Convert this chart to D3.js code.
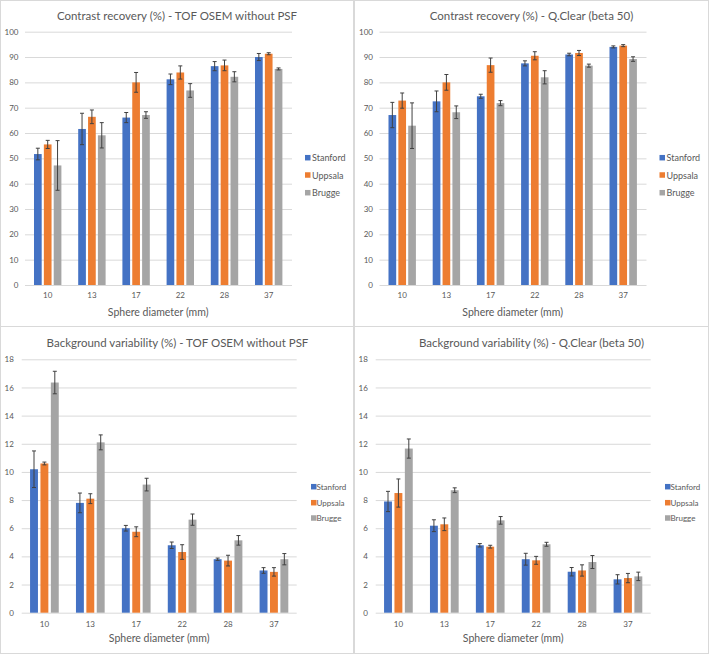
<!DOCTYPE html>
<html>
<head>
<meta charset="utf-8">
<script src="https://cdn.jsdelivr.net/npm/d3@7"></script>
<style>
  html, body { margin: 0; padding: 0; background: #fff; }
  svg { display: block; font-family: Lato, "Liberation Sans", sans-serif; }
</style>
</head>
<body>
<svg id="chart" width="709" height="654"></svg>
<script>
// ---------- DATA ----------
const categories = ["10", "13", "17", "22", "28", "37"];
const seriesNames = ["Stanford", "Uppsala", "Brugge"];
const seriesColors = ["#4472C4", "#ED7D31", "#A5A5A5"];

const crTicks = [0, 10, 20, 30, 40, 50, 60, 70, 80, 90, 100];
const bvTicks = [0, 2, 4, 6, 8, 10, 12, 14, 16, 18];

// Contrast recovery - TOF OSEM without PSF
const crOsemStanford    = [51.7, 61.6, 66.1, 81.2, 86.4, 90.0];
const crOsemStanfordErr = [2.3, 6.2, 2.0, 2.1, 1.8, 1.4];
const crOsemUppsala     = [55.5, 66.4, 80.0, 83.9, 86.7, 91.3];
const crOsemUppsalaErr  = [1.6, 2.7, 3.9, 2.6, 2.1, 0.4];
const crOsemBrugge      = [47.2, 59.1, 67.1, 76.8, 82.2, 85.3];
const crOsemBruggeErr   = [9.8, 5.0, 1.3, 2.7, 2.0, 0.4];

// Contrast recovery - Q.Clear (beta 50)
const crQcStanford    = [67.1, 72.5, 74.5, 87.5, 91.0, 94.0];
const crQcStanfordErr = [5.0, 4.1, 0.8, 1.0, 0.5, 0.4];
const crQcUppsala     = [72.8, 80.0, 86.8, 90.5, 91.6, 94.5];
const crQcUppsalaErr  = [3.0, 3.1, 2.8, 1.6, 1.0, 0.4];
const crQcBrugge      = [62.9, 68.2, 71.8, 82.0, 86.6, 89.2];
const crQcBruggeErr   = [9.0, 2.5, 1.0, 2.6, 0.6, 0.9];

// Background variability - TOF OSEM without PSF
const bvOsemStanford    = [10.19, 7.8, 6.0, 4.79, 3.8, 3.0];
const bvOsemStanfordErr = [1.3, 0.7, 0.2, 0.23, 0.08, 0.2];
const bvOsemUppsala     = [10.6, 8.1, 5.75, 4.31, 3.7, 2.9];
const bvOsemUppsalaErr  = [0.1, 0.35, 0.35, 0.52, 0.38, 0.3];
const bvOsemBrugge      = [16.35, 12.1, 9.1, 6.61, 5.14, 3.8];
const bvOsemBruggeErr   = [0.8, 0.53, 0.45, 0.4, 0.34, 0.4];

// Background variability - Q.Clear (beta 50)
const bvQcStanford    = [7.9, 6.18, 4.79, 3.8, 2.91, 2.37];
const bvQcStanfordErr = [0.72, 0.42, 0.12, 0.42, 0.3, 0.33];
const bvQcUppsala     = [8.5, 6.28, 4.69, 3.72, 3.0, 2.46];
const bvQcUppsalaErr  = [1.0, 0.45, 0.1, 0.28, 0.4, 0.33];
const bvQcBrugge      = [11.66, 8.7, 6.56, 4.86, 3.6, 2.58];
const bvQcBruggeErr   = [0.68, 0.17, 0.27, 0.14, 0.46, 0.3];

// ---------- PANELS ----------
const svg = d3.select("#chart");
const textColor = "#595959";
const gridColor = "#d9d9d9";

// panel borders
[[0.5, 0.5, 353, 326], [354.5, 0.5, 354, 326], [0.5, 326.5, 353, 327], [354.5, 326.5, 354, 327]]
  .forEach(r => svg.append("rect").attr("x", r[0]).attr("y", r[1]).attr("width", r[2]).attr("height", r[3])
    .attr("fill", "none").attr("stroke", gridColor).attr("stroke-width", 1));

const panels = [
  { title: "Contrast recovery (%) - TOF OSEM without PSF", dx: 0, top: true,
    vals: [crOsemStanford, crOsemUppsala, crOsemBrugge], errs: [crOsemStanfordErr, crOsemUppsalaErr, crOsemBruggeErr] },
  { title: "Contrast recovery (%) - Q.Clear (beta 50)", dx: 354.5, top: true,
    vals: [crQcStanford, crQcUppsala, crQcBrugge], errs: [crQcStanfordErr, crQcUppsalaErr, crQcBruggeErr] },
  { title: "Background variability (%) - TOF OSEM without PSF", dx: 0, top: false,
    vals: [bvOsemStanford, bvOsemUppsala, bvOsemBrugge], errs: [bvOsemStanfordErr, bvOsemUppsalaErr, bvOsemBruggeErr] },
  { title: "Background variability (%) - Q.Clear (beta 50)", dx: 354, top: false,
    vals: [bvQcStanford, bvQcUppsala, bvQcBrugge], errs: [bvQcStanfordErr, bvQcUppsalaErr, bvQcBruggeErr] }
];

panels.forEach(p => {
  const L = p.top
    ? { x0: 25.6, x1: 290.8, y0: 285, y1: 31.7, ymax: 100, ticks: crTicks, titleY: 15, titleX: 177,
        tickLabelY: 295, xTitleY: 311.7, legSq: 305, legTx: 312, legY: [157.7, 175, 192.7], legFont: 9,
        yLabelX: 18.5, outerPad: 0.38, innerPad: 0.22, gridX0: 25, gridX1: 292 }
    : { x0: 21.45, x1: 296.9, y0: 612.7, y1: 359.3, ymax: 18, ticks: bvTicks, titleY: 342.7, titleX: 177.5,
        tickLabelY: 624, xTitleY: 638.3, legSq: 311, legTx: 316.5, legY: [486.7, 502.7, 518], legFont: 8,
        yLabelX: 13.8, outerPad: 0.375, innerPad: 0.24, gridX0: 21.7, gridX1: 296.7 };
  const g = svg.append("g").attr("transform", `translate(${p.dx},0)`);

  const x = d3.scaleBand().domain(categories).range([L.x0, L.x1])
    .paddingInner(L.outerPad).paddingOuter(L.outerPad / 2);
  const xs = d3.scaleBand().domain(seriesNames).range([0, x.bandwidth()]).paddingInner(L.innerPad);
  const y = d3.scaleLinear().domain([0, L.ymax]).range([L.y0, L.y1]);

  // title
  g.append("text").attr("x", L.titleX).attr("y", L.titleY).attr("text-anchor", "middle")
    .attr("dominant-baseline", "central").attr("font-size", 11.5).attr("fill", textColor).text(p.title);

  // grid + y labels
  const gy = g.append("g").attr("transform", `translate(${L.gridX0},0)`)
    .call(d3.axisLeft(y).tickValues(L.ticks).tickSize(-(L.gridX1 - L.gridX0)).tickFormat(d3.format("d")));
  gy.select(".domain").remove();
  gy.selectAll(".tick line").attr("stroke", gridColor).attr("stroke-width", 1);
  gy.selectAll(".tick text").attr("x", L.yLabelX - L.gridX0).attr("fill", textColor)
    .attr("font-size", 8).attr("font-family", "Lato, 'Liberation Sans', sans-serif");

  // x axis labels
  const gx = g.append("g").attr("transform", `translate(0,${L.tickLabelY})`)
    .call(d3.axisBottom(x).tickSize(0).tickPadding(0));
  gx.select(".domain").remove();
  gx.selectAll(".tick text").attr("y", 0).attr("dy", "0.35em").attr("fill", textColor)
    .attr("font-size", 8).attr("font-family", "Lato, 'Liberation Sans', sans-serif");

  // x title
  g.append("text").attr("x", (L.x0 + L.x1) / 2).attr("y", L.xTitleY).attr("text-anchor", "middle")
    .attr("dominant-baseline", "central").attr("font-size", 10.5).attr("fill", textColor).text("Sphere diameter (mm)");

  // bars + error bars
  seriesNames.forEach((s, si) => {
    const rows = categories.map((c, ci) => ({ c, v: p.vals[si][ci], e: p.errs[si][ci] }));
    const sg = g.append("g");
    sg.selectAll("rect").data(rows).join("rect")
      .attr("x", d => x(d.c) + xs(s)).attr("width", xs.bandwidth())
      .attr("y", d => y(d.v)).attr("height", d => y(0) - y(d.v))
      .attr("fill", seriesColors[si]);
    const eg = g.append("g").attr("stroke", "#404040").attr("stroke-width", 1).attr("fill", "none");
    rows.forEach(d => {
      const cx = x(d.c) + xs(s) + xs.bandwidth() / 2;
      eg.append("line").attr("x1", cx).attr("x2", cx).attr("y1", y(d.v + d.e)).attr("y2", y(d.v - d.e));
      eg.append("line").attr("x1", cx - 2).attr("x2", cx + 2).attr("y1", y(d.v + d.e)).attr("y2", y(d.v + d.e));
      eg.append("line").attr("x1", cx - 2).attr("x2", cx + 2).attr("y1", y(d.v - d.e)).attr("y2", y(d.v - d.e));
    });
  });

  // legend
  seriesNames.forEach((s, si) => {
    const ly = L.legY[si];
    g.append("rect").attr("x", L.legSq).attr("y", ly - 2.75).attr("width", 5.5).attr("height", 5.5)
      .attr("fill", seriesColors[si]);
    g.append("text").attr("x", L.legTx).attr("y", ly).attr("dominant-baseline", "central")
      .attr("font-size", L.legFont).attr("fill", textColor).text(s);
  });
});
</script>
</body>
</html>
